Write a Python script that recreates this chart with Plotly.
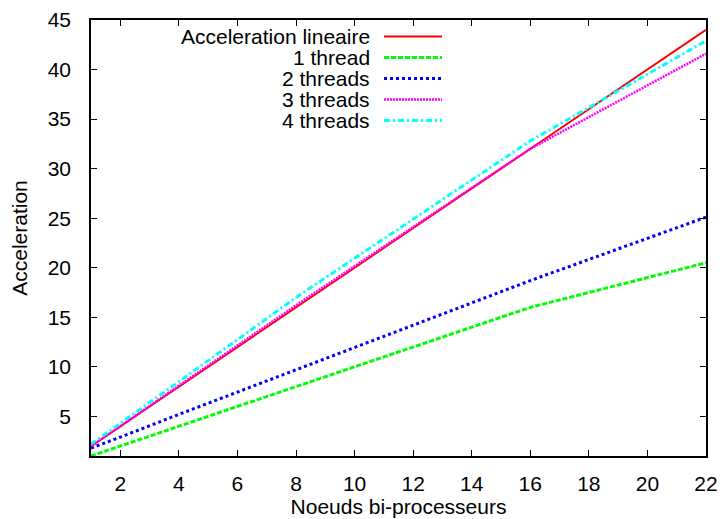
import plotly.graph_objects as go

# ---- data ----
nodes_linear = [1, 22]
accel_linear = [2, 44]

nodes = [1, 2, 4, 8, 16, 22]
thread1 = [1.0, 2.0, 4.0, 8.0, 16.0, 20.5]
thread2 = [1.8, 2.9, 5.2, 9.7, 18.7, 25.1]
thread3 = [2.0, 4.0, 8.1, 16.2, 32.0, 41.6]
thread4 = [2.2, 4.3, 8.5, 17.0, 32.8, 42.9]

names = ["Acceleration lineaire", "1 thread", "2 threads", "3 threads", "4 threads"]
colors = ["#ff0000", "#00ff00", "#0000ff", "#ff00ff", "#00ffff"]
dashes = ["solid", "5px,2px", "3px,3px", "2px,1px", "6px,3px,2px,3px"]
widths = [2, 3, 3, 2.5, 3]

series_x = [nodes_linear, nodes, nodes, nodes, nodes]
series_y = [accel_linear, thread1, thread2, thread3, thread4]

FONT = "Liberation Sans, Arial, Helvetica, sans-serif"
FS = 21
W, H = 720, 519
L, R, T, B = 91, 14, 20, 63

fig = go.Figure()
for xs, ys, n, c, d, w in zip(series_x, series_y, names, colors, dashes, widths):
    fig.add_trace(go.Scatter(x=xs, y=ys, mode="lines", name=n,
                             line=dict(color=c, dash=d, width=w),
                             showlegend=False))

# legend drawn gnuplot-style (text then line sample on its right)
pw, ph = W - L - R, H - T - B
def px(x):
    return (x - L) / pw
def py(y):
    return 1 - (y - T) / ph

row_y = [36.5, 57.5, 78.5, 99.5, 120.5]
for n, c, d, w, ry in zip(names, colors, dashes, widths, row_y):
    fig.add_annotation(x=px(372), y=py(ry), xref="paper", yref="paper",
                       text=n, showarrow=False, xanchor="right", yanchor="middle",
                       font=dict(family=FONT, size=FS, color="black"))
    fig.add_shape(type="line", xref="paper", yref="paper",
                  x0=px(384), x1=px(442), y0=py(ry), y1=py(ry),
                  line=dict(color=c, dash=d, width=w))

axis_common = dict(showline=True, linecolor="black", linewidth=1.5, mirror="ticks",
                   ticks="inside", ticklen=6, tickcolor="black", tickwidth=1,
                   showgrid=False, zeroline=False,
                   tickfont=dict(family=FONT, size=FS, color="black"))

fig.update_xaxes(range=[1, 22], tick0=0, dtick=2, ticklabelstandoff=8,
                 title=dict(text="Noeuds bi-processeurs", standoff=4,
                            font=dict(family=FONT, size=FS, color="black")),
                 automargin=False, **axis_common)
fig.update_yaxes(range=[1, 45], tick0=0, dtick=5, ticklabelstandoff=14,
                 title=dict(text="Acceleration", standoff=14,
                            font=dict(family=FONT, size=FS, color="black")),
                 automargin=False, **axis_common)

fig.update_layout(width=W, height=H, margin=dict(l=L, r=R, t=T, b=B),
                  plot_bgcolor="white", paper_bgcolor="white",
                  font=dict(family=FONT, size=FS, color="black"))

fig.write_html("out.html")
